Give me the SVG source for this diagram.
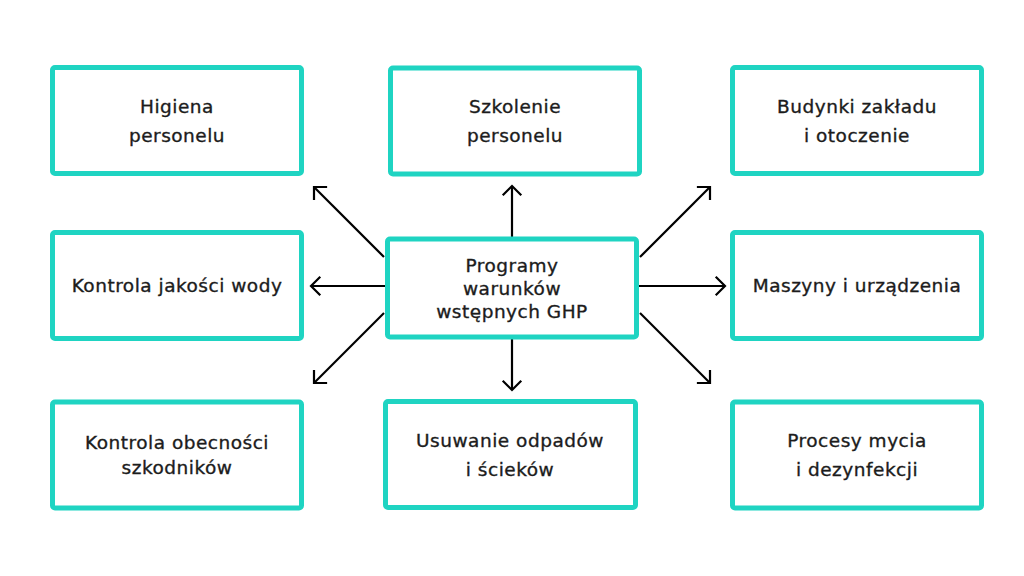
<svg xmlns="http://www.w3.org/2000/svg" width="1024" height="576" viewBox="0 0 1024 576">
  <style>
    .box { fill: #ffffff; stroke: #1fd4c2; stroke-width: 5; }
    .lbl { font-family: "DejaVu Sans", "Liberation Sans", sans-serif; font-size: 18.5px; font-weight: normal; letter-spacing: 0.5px; fill: #1c1c1c; stroke: #1c1c1c; stroke-width: 0.35px; text-anchor: middle; }
    .conn { stroke: #000000; stroke-width: 2.2; fill: none; marker-end: url(#arrow); }
  </style>
  <defs>
    <marker id="arrow" viewBox="-12 -12 14 24" markerWidth="14" markerHeight="24" refX="0" refY="0" orient="auto" markerUnits="userSpaceOnUse">
      <path d="M -8.5 -8.5 L 0 0 L -8.5 8.5" fill="none" stroke="#000000" stroke-width="2.2" stroke-linecap="square" stroke-linejoin="miter"/>
    </marker>
  </defs>
  <rect width="1024" height="576" fill="#ffffff"/>

  <g id="connectors">
    <line class="conn" x1="512" y1="237" x2="512" y2="186"/>
    <line class="conn" x1="512" y1="339" x2="512" y2="390"/>
    <line class="conn" x1="385" y1="286" x2="311" y2="286"/>
    <line class="conn" x1="639" y1="286" x2="725" y2="286"/>
    <line class="conn" x1="384" y1="257" x2="314" y2="187"/>
    <line class="conn" x1="640" y1="257" x2="710" y2="187"/>
    <line class="conn" x1="384" y1="313" x2="314" y2="383"/>
    <line class="conn" x1="640" y1="313" x2="710" y2="383"/>
  </g>

  <g id="node-higiena">
    <rect class="box" x="52.5" y="67.5" width="249" height="106" rx="2.5"/>
    <text class="lbl" x="177" y="113">Higiena</text>
    <text class="lbl" x="177" y="142">personelu</text>
  </g>
  <g id="node-szkolenie">
    <rect class="box" x="390.5" y="68" width="249" height="106" rx="2.5"/>
    <text class="lbl" x="515" y="113">Szkolenie</text>
    <text class="lbl" x="515" y="142">personelu</text>
  </g>
  <g id="node-budynki">
    <rect class="box" x="732.5" y="67.5" width="249" height="106" rx="2.5"/>
    <text class="lbl" x="857" y="113">Budynki zakładu</text>
    <text class="lbl" x="857" y="142">i otoczenie</text>
  </g>
  <g id="node-woda">
    <rect class="box" x="52.5" y="232.5" width="249" height="106" rx="2.5"/>
    <text class="lbl" x="177" y="292">Kontrola jakości wody</text>
  </g>
  <g id="node-center">
    <rect class="box" x="387.5" y="239" width="249" height="98" rx="2.5"/>
    <text class="lbl" x="512" y="272">Programy</text>
    <text class="lbl" x="512" y="295">warunków</text>
    <text class="lbl" x="512" y="318">wstępnych GHP</text>
  </g>
  <g id="node-maszyny">
    <rect class="box" x="732.5" y="232.5" width="249" height="106" rx="2.5"/>
    <text class="lbl" x="857" y="292">Maszyny i urządzenia</text>
  </g>
  <g id="node-szkodniki">
    <rect class="box" x="52.5" y="402" width="249" height="106" rx="2.5"/>
    <text class="lbl" x="177" y="449">Kontrola obecności</text>
    <text class="lbl" x="177" y="474">szkodników</text>
  </g>
  <g id="node-odpady">
    <rect class="box" x="385.5" y="401.5" width="250" height="106" rx="2.5"/>
    <text class="lbl" x="510" y="447">Usuwanie odpadów</text>
    <text class="lbl" x="510" y="476">i ścieków</text>
  </g>
  <g id="node-mycie">
    <rect class="box" x="732.5" y="402" width="249" height="106" rx="2.5"/>
    <text class="lbl" x="857" y="447">Procesy mycia</text>
    <text class="lbl" x="857" y="476">i dezynfekcji</text>
  </g>
</svg>
